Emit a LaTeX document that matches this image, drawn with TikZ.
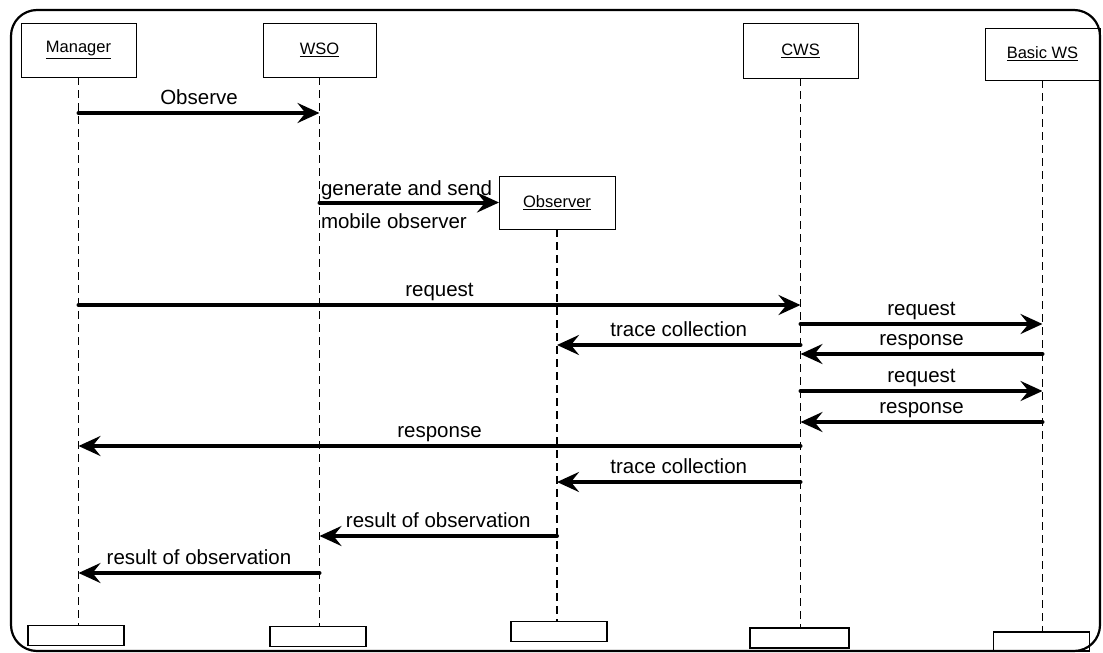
\documentclass[tikz,border=0pt]{standalone}
\usepackage{fontspec}
\setmainfont{Liberation Sans}
\usetikzlibrary{arrows.meta}
\begin{document}
\begin{tikzpicture}[x=1pt,y=-1pt,
  every node/.style={inner sep=0pt, outer sep=0pt},
  head/.style={draw, line width=1pt, font=\fontsize{16.5}{19}\selectfont},
  foot/.style={draw, line width=1.3pt, minimum width=96pt, minimum height=20pt},
  life/.style={line width=1.3pt, dash pattern=on 8pt off 5pt},
  msg/.style={line width=4pt, line cap=round, -{Stealth[length=22pt,width=20pt,inset=8pt]}},
  lbl/.style={anchor=base, yshift=8.5pt, font=\fontsize{20.5}{24}\selectfont},
  lblw/.style={anchor=base west, font=\fontsize{20.5}{24}\selectfont},
]
\useasboundingbox (0,0) rectangle (1103,653);

% outer frame
\draw[line width=2.2pt, rounded corners=26pt] (11,10) rectangle (1100,651);

% lifeline heads
\node[head, minimum width=115pt, minimum height=54pt] (mgr) at (78.5,50) {\underline{Manager}};
\node[head, minimum width=113pt, minimum height=54pt] (wso) at (319.5,50) {\underline{WSO}};
\node[head, minimum width=115pt, minimum height=55pt] (cws) at (800.5,50.5) {\underline{CWS}};
\node[head, minimum width=115pt, minimum height=52pt] (bws) at (1042.5,54) {\underline{Basic WS}};
\node[head, minimum width=116pt, minimum height=53pt] (obs) at (557,202.5) {\underline{Observer}};

% lifeline feet
\node[foot] (mgrF) at (76,635.5) {};
\node[foot] (wsoF) at (318,636.5) {};
\node[foot] (obsF) at (559,631.5) {};
\node[foot, minimum width=99pt] (cwsF) at (799.5,638) {};
\node[foot, minimum height=19pt] (bwsF) at (1041.5,641.5) {};

% lifelines
\draw[life] (mgr.south) -- (mgr.south |- mgrF.north);
\draw[life] (wso.south) -- (wso.south |- wsoF.north);
\draw[life] (obs.south) -- (obs.south |- obsF.north);
\draw[life] (cws.south) -- (cws.south |- cwsF.north);
\draw[life] (bws.south) -- (bws.south |- bwsF.north);

% messages
\draw[msg] (mgr.south |- 0,113) -- node[lbl]{Observe} (wso.south |- 0,113);

\draw[msg] (wso.south |- obs.west) -- (obs.west);
\node[lblw] (gen) at (321,195) {generate and send};
\node[lblw] (mob) at (321,228) {mobile observer};

\draw[msg] (mgr.south |- 0,305) -- node[lbl]{request} (cws.south |- 0,305);
\draw[msg] (cws.south |- 0,324) -- node[lbl]{request} (bws.south |- 0,324);
\draw[msg] (cws.south |- 0,345) -- node[lbl]{trace collection} (obs.south |- 0,345);
\draw[msg] (bws.south |- 0,354) -- node[lbl]{response} (cws.south |- 0,354);
\draw[msg] (cws.south |- 0,391) -- node[lbl]{request} (bws.south |- 0,391);
\draw[msg] (bws.south |- 0,422) -- node[lbl]{response} (cws.south |- 0,422);
\draw[msg] (cws.south |- 0,446) -- node[lbl]{response} (mgr.south |- 0,446);
\draw[msg] (cws.south |- 0,482) -- node[lbl]{trace collection} (obs.south |- 0,482);
\draw[msg] (obs.south |- 0,536) -- node[lbl]{result of observation} (wso.south |- 0,536);
\draw[msg] (wso.south |- 0,573) -- node[lbl]{result of observation} (mgr.south |- 0,573);
\end{tikzpicture}
\end{document}
